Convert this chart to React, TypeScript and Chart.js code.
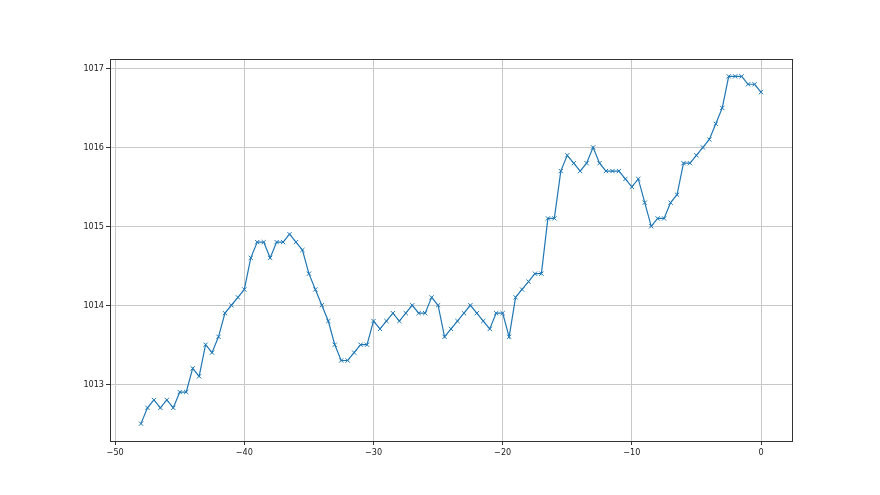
import { useEffect, useRef } from "react";
import { Chart, registerables } from "chart.js";

Chart.register(...registerables);

const hours = [
  -48, -47.5, -47, -46.5, -46, -45.5, -45, -44.5, -44, -43.5, -43, -42.5, -42, -41.5, -41, -40.5,
  -40, -39.5, -39, -38.5, -38, -37.5, -37, -36.5, -36, -35.5, -35, -34.5, -34, -33.5, -33, -32.5,
  -32, -31.5, -31, -30.5, -30, -29.5, -29, -28.5, -28, -27.5, -27, -26.5, -26, -25.5, -25, -24.5,
  -24, -23.5, -23, -22.5, -22, -21.5, -21, -20.5, -20, -19.5, -19, -18.5, -18, -17.5, -17, -16.5,
  -16, -15.5, -15, -14.5, -14, -13.5, -13, -12.5, -12, -11.5, -11, -10.5, -10, -9.5, -9, -8.5,
  -8, -7.5, -7, -6.5, -6, -5.5, -5, -4.5, -4, -3.5, -3, -2.5, -2, -1.5, -1, -0.5, 0,
];

const pressure = [
  1012.5, 1012.7, 1012.8, 1012.7, 1012.8, 1012.7, 1012.9, 1012.9, 1013.2, 1013.1, 1013.5, 1013.4, 1013.6, 1013.9, 1014.0, 1014.1,
  1014.2, 1014.6, 1014.8, 1014.8, 1014.6, 1014.8, 1014.8, 1014.9, 1014.8, 1014.7, 1014.4, 1014.2, 1014.0, 1013.8, 1013.5, 1013.3,
  1013.3, 1013.4, 1013.5, 1013.5, 1013.8, 1013.7, 1013.8, 1013.9, 1013.8, 1013.9, 1014.0, 1013.9, 1013.9, 1014.1, 1014.0, 1013.6,
  1013.7, 1013.8, 1013.9, 1014.0, 1013.9, 1013.8, 1013.7, 1013.9, 1013.9, 1013.6, 1014.1, 1014.2, 1014.3, 1014.4, 1014.4, 1015.1,
  1015.1, 1015.7, 1015.9, 1015.8, 1015.7, 1015.8, 1016.0, 1015.8, 1015.7, 1015.7, 1015.7, 1015.6, 1015.5, 1015.6, 1015.3, 1015.0,
  1015.1, 1015.1, 1015.3, 1015.4, 1015.8, 1015.8, 1015.9, 1016.0, 1016.1, 1016.3, 1016.5, 1016.9, 1016.9, 1016.9, 1016.8, 1016.8, 1016.7,
];

const xTicks = [-50, -40, -30, -20, -10, 0];
const yTicks = [1013, 1014, 1015, 1016, 1017];

const LINE_COLOR = "#1f77b4";
const FONT = { family: "'DejaVu Sans Condensed', 'DejaVu Sans', sans-serif", size: 9 };

const framePlugin = {
  id: "frame",
  afterDraw(chart: any) {
    const { ctx, chartArea } = chart;
    const l = Math.floor(chartArea.left) + 0.5;
    const t = Math.floor(chartArea.top) + 0.5;
    const r = Math.floor(chartArea.right) + 0.5;
    const b = Math.floor(chartArea.bottom) + 0.5;
    ctx.save();
    ctx.strokeStyle = "#333333";
    ctx.lineWidth = 1;
    ctx.strokeRect(l, t, r - l, b - t);
    ctx.restore();
  },
};

const fmt = (v: number) => (v < 0 ? "\u2212" + Math.abs(v) : String(v));

export default function App() {
  const ref = useRef<HTMLCanvasElement | null>(null);

  useEffect(() => {
    document.body.style.margin = "0";
    const canvas = ref.current;
    if (!canvas) return;
    const chart = new Chart(canvas, {
      type: "line",
      data: {
        datasets: [
          {
            data: hours.map((h, i) => ({ x: h, y: pressure[i] })),
            borderColor: LINE_COLOR,
            backgroundColor: LINE_COLOR,
            borderWidth: 1.2,
            pointStyle: "crossRot",
            pointRadius: 3,
            pointBorderWidth: 1,
            pointBorderColor: LINE_COLOR,
            tension: 0,
            fill: false,
          },
        ],
      },
      plugins: [framePlugin],
      options: {
        animation: false,
        responsive: false,
        devicePixelRatio: 1,
        layout: { padding: { left: 0, top: 59, right: 88, bottom: 0 } },
        plugins: { legend: { display: false }, tooltip: { enabled: false } },
        scales: {
          x: {
            type: "linear",
            min: -50.4,
            max: 2.4,
            afterBuildTicks: (scale: any) => {
              scale.ticks = xTicks.map((v) => ({ value: v }));
            },
            afterFit: (scale: any) => {
              scale.height = 54;
            },
            border: { display: false },
            grid: {
              color: "#c8c8c8",
              lineWidth: 1,
              tickLength: 4,
              tickColor: "#333333",
            },
            ticks: {
              color: "#222222",
              font: FONT,
              padding: 2,
              maxRotation: 0,
              autoSkip: false,
              callback: (v: any) => fmt(Number(v)),
            },
          },
          y: {
            type: "linear",
            min: 1012.28,
            max: 1017.12,
            afterBuildTicks: (scale: any) => {
              scale.ticks = yTicks.map((v) => ({ value: v }));
            },
            afterFit: (scale: any) => {
              scale.width = 110;
            },
            border: { display: false },
            grid: {
              color: "#c8c8c8",
              lineWidth: 1,
              tickLength: 4,
              tickColor: "#333333",
            },
            ticks: {
              color: "#222222",
              font: FONT,
              padding: 2,
              autoSkip: false,
              callback: (v: any) => String(v),
            },
          },
        },
      },
    } as any);
    return () => chart.destroy();
  }, []);

  return (
    <div style={{ position: "absolute", left: 0, top: 0, width: 880, height: 495, background: "#fff" }}>
      <canvas ref={ref} width={880} height={495} style={{ width: 880, height: 495, display: "block" }} />
    </div>
  );
}
